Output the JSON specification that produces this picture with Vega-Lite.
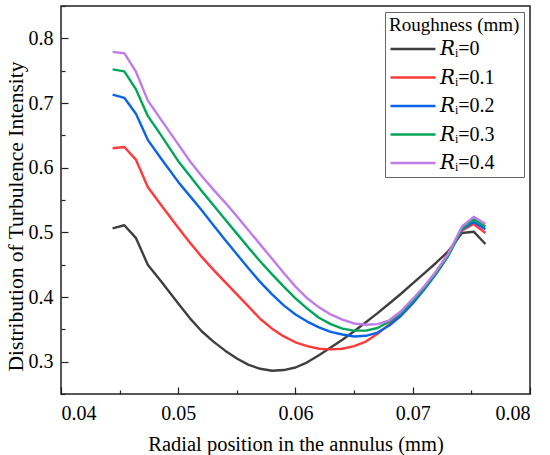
{
  "$schema": "https://vega.github.io/schema/vega-lite/v6.json",
  "width": 469, "height": 388,
  "autosize": {"type": "none"},
  "padding": {"left": 61, "top": 6, "right": 20, "bottom": 61},
  "background": "white",
  "datasets": {
    "curves": [
      {"x": 0.0444, "y": 0.506, "Ri": "0"}, {"x": 0.0454, "y": 0.511, "Ri": "0"}, {"x": 0.0464, "y": 0.491, "Ri": "0"},
      {"x": 0.0474, "y": 0.450, "Ri": "0"}, {"x": 0.0485, "y": 0.425, "Ri": "0"}, {"x": 0.050, "y": 0.390, "Ri": "0"},
      {"x": 0.051, "y": 0.367, "Ri": "0"}, {"x": 0.052, "y": 0.347, "Ri": "0"}, {"x": 0.053, "y": 0.331, "Ri": "0"},
      {"x": 0.054, "y": 0.317, "Ri": "0"}, {"x": 0.055, "y": 0.305, "Ri": "0"}, {"x": 0.056, "y": 0.295, "Ri": "0"},
      {"x": 0.057, "y": 0.289, "Ri": "0"}, {"x": 0.058, "y": 0.286, "Ri": "0"}, {"x": 0.059, "y": 0.287, "Ri": "0"},
      {"x": 0.060, "y": 0.291, "Ri": "0"}, {"x": 0.061, "y": 0.299, "Ri": "0"}, {"x": 0.062, "y": 0.310, "Ri": "0"},
      {"x": 0.063, "y": 0.322, "Ri": "0"}, {"x": 0.064, "y": 0.334, "Ri": "0"}, {"x": 0.065, "y": 0.347, "Ri": "0"},
      {"x": 0.066, "y": 0.361, "Ri": "0"}, {"x": 0.067, "y": 0.375, "Ri": "0"}, {"x": 0.068, "y": 0.390, "Ri": "0"},
      {"x": 0.069, "y": 0.405, "Ri": "0"}, {"x": 0.070, "y": 0.421, "Ri": "0"}, {"x": 0.071, "y": 0.437, "Ri": "0"},
      {"x": 0.072, "y": 0.453, "Ri": "0"}, {"x": 0.073, "y": 0.470, "Ri": "0"}, {"x": 0.0742, "y": 0.499, "Ri": "0"},
      {"x": 0.0752, "y": 0.501, "Ri": "0"}, {"x": 0.0762, "y": 0.482, "Ri": "0"},

      {"x": 0.0444, "y": 0.630, "Ri": "0.1"}, {"x": 0.0454, "y": 0.632, "Ri": "0.1"}, {"x": 0.0464, "y": 0.612, "Ri": "0.1"},
      {"x": 0.0474, "y": 0.570, "Ri": "0.1"}, {"x": 0.0485, "y": 0.543, "Ri": "0.1"}, {"x": 0.050, "y": 0.507, "Ri": "0.1"},
      {"x": 0.051, "y": 0.484, "Ri": "0.1"}, {"x": 0.052, "y": 0.462, "Ri": "0.1"}, {"x": 0.053, "y": 0.442, "Ri": "0.1"},
      {"x": 0.054, "y": 0.423, "Ri": "0.1"}, {"x": 0.055, "y": 0.404, "Ri": "0.1"}, {"x": 0.056, "y": 0.385, "Ri": "0.1"},
      {"x": 0.057, "y": 0.366, "Ri": "0.1"}, {"x": 0.058, "y": 0.351, "Ri": "0.1"}, {"x": 0.059, "y": 0.339, "Ri": "0.1"},
      {"x": 0.060, "y": 0.330, "Ri": "0.1"}, {"x": 0.061, "y": 0.324, "Ri": "0.1"}, {"x": 0.062, "y": 0.320, "Ri": "0.1"},
      {"x": 0.063, "y": 0.319, "Ri": "0.1"}, {"x": 0.064, "y": 0.320, "Ri": "0.1"}, {"x": 0.065, "y": 0.324, "Ri": "0.1"},
      {"x": 0.066, "y": 0.331, "Ri": "0.1"}, {"x": 0.067, "y": 0.343, "Ri": "0.1"}, {"x": 0.068, "y": 0.358, "Ri": "0.1"},
      {"x": 0.069, "y": 0.376, "Ri": "0.1"}, {"x": 0.070, "y": 0.395, "Ri": "0.1"}, {"x": 0.071, "y": 0.415, "Ri": "0.1"},
      {"x": 0.072, "y": 0.439, "Ri": "0.1"}, {"x": 0.073, "y": 0.466, "Ri": "0.1"}, {"x": 0.0742, "y": 0.503, "Ri": "0.1"},
      {"x": 0.0752, "y": 0.513, "Ri": "0.1"}, {"x": 0.0762, "y": 0.499, "Ri": "0.1"},

      {"x": 0.0444, "y": 0.713, "Ri": "0.2"}, {"x": 0.0454, "y": 0.708, "Ri": "0.2"}, {"x": 0.0464, "y": 0.683, "Ri": "0.2"},
      {"x": 0.0474, "y": 0.643, "Ri": "0.2"}, {"x": 0.0485, "y": 0.615, "Ri": "0.2"}, {"x": 0.050, "y": 0.578, "Ri": "0.2"},
      {"x": 0.051, "y": 0.556, "Ri": "0.2"}, {"x": 0.052, "y": 0.534, "Ri": "0.2"}, {"x": 0.053, "y": 0.511, "Ri": "0.2"},
      {"x": 0.054, "y": 0.488, "Ri": "0.2"}, {"x": 0.055, "y": 0.466, "Ri": "0.2"}, {"x": 0.056, "y": 0.444, "Ri": "0.2"},
      {"x": 0.057, "y": 0.423, "Ri": "0.2"}, {"x": 0.058, "y": 0.404, "Ri": "0.2"}, {"x": 0.059, "y": 0.387, "Ri": "0.2"},
      {"x": 0.060, "y": 0.373, "Ri": "0.2"}, {"x": 0.061, "y": 0.362, "Ri": "0.2"}, {"x": 0.062, "y": 0.353, "Ri": "0.2"},
      {"x": 0.063, "y": 0.346, "Ri": "0.2"}, {"x": 0.064, "y": 0.342, "Ri": "0.2"}, {"x": 0.065, "y": 0.339, "Ri": "0.2"},
      {"x": 0.066, "y": 0.340, "Ri": "0.2"}, {"x": 0.067, "y": 0.345, "Ri": "0.2"}, {"x": 0.068, "y": 0.356, "Ri": "0.2"},
      {"x": 0.069, "y": 0.371, "Ri": "0.2"}, {"x": 0.070, "y": 0.390, "Ri": "0.2"}, {"x": 0.071, "y": 0.412, "Ri": "0.2"},
      {"x": 0.072, "y": 0.436, "Ri": "0.2"}, {"x": 0.073, "y": 0.463, "Ri": "0.2"}, {"x": 0.0742, "y": 0.505, "Ri": "0.2"},
      {"x": 0.0752, "y": 0.516, "Ri": "0.2"}, {"x": 0.0762, "y": 0.505, "Ri": "0.2"},

      {"x": 0.0444, "y": 0.752, "Ri": "0.3"}, {"x": 0.0454, "y": 0.749, "Ri": "0.3"}, {"x": 0.0464, "y": 0.721, "Ri": "0.3"},
      {"x": 0.0474, "y": 0.680, "Ri": "0.3"}, {"x": 0.0485, "y": 0.651, "Ri": "0.3"}, {"x": 0.050, "y": 0.610, "Ri": "0.3"},
      {"x": 0.051, "y": 0.587, "Ri": "0.3"}, {"x": 0.052, "y": 0.564, "Ri": "0.3"}, {"x": 0.053, "y": 0.542, "Ri": "0.3"},
      {"x": 0.054, "y": 0.520, "Ri": "0.3"}, {"x": 0.055, "y": 0.498, "Ri": "0.3"}, {"x": 0.056, "y": 0.476, "Ri": "0.3"},
      {"x": 0.057, "y": 0.455, "Ri": "0.3"}, {"x": 0.058, "y": 0.435, "Ri": "0.3"}, {"x": 0.059, "y": 0.416, "Ri": "0.3"},
      {"x": 0.060, "y": 0.398, "Ri": "0.3"}, {"x": 0.061, "y": 0.382, "Ri": "0.3"}, {"x": 0.062, "y": 0.368, "Ri": "0.3"},
      {"x": 0.063, "y": 0.358, "Ri": "0.3"}, {"x": 0.064, "y": 0.351, "Ri": "0.3"}, {"x": 0.065, "y": 0.348, "Ri": "0.3"},
      {"x": 0.066, "y": 0.348, "Ri": "0.3"}, {"x": 0.067, "y": 0.352, "Ri": "0.3"}, {"x": 0.068, "y": 0.362, "Ri": "0.3"},
      {"x": 0.069, "y": 0.376, "Ri": "0.3"}, {"x": 0.070, "y": 0.394, "Ri": "0.3"}, {"x": 0.071, "y": 0.414, "Ri": "0.3"},
      {"x": 0.072, "y": 0.437, "Ri": "0.3"}, {"x": 0.073, "y": 0.463, "Ri": "0.3"}, {"x": 0.0742, "y": 0.506, "Ri": "0.3"},
      {"x": 0.0752, "y": 0.520, "Ri": "0.3"}, {"x": 0.0762, "y": 0.509, "Ri": "0.3"},

      {"x": 0.0444, "y": 0.779, "Ri": "0.4"}, {"x": 0.0454, "y": 0.777, "Ri": "0.4"}, {"x": 0.0464, "y": 0.748, "Ri": "0.4"},
      {"x": 0.0474, "y": 0.704, "Ri": "0.4"}, {"x": 0.0485, "y": 0.675, "Ri": "0.4"}, {"x": 0.050, "y": 0.636, "Ri": "0.4"},
      {"x": 0.051, "y": 0.610, "Ri": "0.4"}, {"x": 0.052, "y": 0.587, "Ri": "0.4"}, {"x": 0.053, "y": 0.566, "Ri": "0.4"},
      {"x": 0.054, "y": 0.546, "Ri": "0.4"}, {"x": 0.055, "y": 0.525, "Ri": "0.4"}, {"x": 0.056, "y": 0.503, "Ri": "0.4"},
      {"x": 0.057, "y": 0.481, "Ri": "0.4"}, {"x": 0.058, "y": 0.459, "Ri": "0.4"}, {"x": 0.059, "y": 0.437, "Ri": "0.4"},
      {"x": 0.060, "y": 0.416, "Ri": "0.4"}, {"x": 0.061, "y": 0.398, "Ri": "0.4"}, {"x": 0.062, "y": 0.384, "Ri": "0.4"},
      {"x": 0.063, "y": 0.373, "Ri": "0.4"}, {"x": 0.064, "y": 0.365, "Ri": "0.4"}, {"x": 0.065, "y": 0.359, "Ri": "0.4"},
      {"x": 0.066, "y": 0.357, "Ri": "0.4"}, {"x": 0.067, "y": 0.358, "Ri": "0.4"}, {"x": 0.068, "y": 0.364, "Ri": "0.4"},
      {"x": 0.069, "y": 0.378, "Ri": "0.4"}, {"x": 0.070, "y": 0.397, "Ri": "0.4"}, {"x": 0.071, "y": 0.417, "Ri": "0.4"},
      {"x": 0.072, "y": 0.440, "Ri": "0.4"}, {"x": 0.073, "y": 0.466, "Ri": "0.4"}, {"x": 0.0742, "y": 0.509, "Ri": "0.4"},
      {"x": 0.0752, "y": 0.524, "Ri": "0.4"}, {"x": 0.0762, "y": 0.513, "Ri": "0.4"}
    ]
  },
  "data": {"name": "curves"},
  "mark": {"type": "line", "strokeWidth": 2.4, "strokeJoin": "round"},
  "encoding": {
    "x": {
      "field": "x", "type": "quantitative",
      "title": "Radial position in the annulus (mm)",
      "scale": {"domain": [0.04, 0.08], "nice": false, "zero": false},
      "axis": {
        "values": [0.04, 0.045, 0.05, 0.055, 0.06, 0.065, 0.07, 0.075, 0.08],
        "labelExpr": "round(datum.value * 1000) % 10 == 0 ? format(datum.value, '.2f') : ''",
        "tickSize": {"condition": {"test": "round(datum.value * 1000) % 10 == 0", "value": -7}, "value": -4},
        "labelPadding": 16,
        "titleFontSize": 20.5,
        "titlePadding": 11
      }
    },
    "y": {
      "field": "y", "type": "quantitative",
      "title": "Distribution of Turbulence Intensity",
      "scale": {"domain": [0.25, 0.85], "nice": false, "zero": false},
      "axis": {
        "values": [0.25, 0.3, 0.35, 0.4, 0.45, 0.5, 0.55, 0.6, 0.65, 0.7, 0.75, 0.8, 0.85],
        "labelExpr": "round(datum.value * 100) % 10 == 0 ? format(datum.value, '.1f') : ''",
        "tickSize": {"condition": {"test": "round(datum.value * 100) % 10 == 0", "value": -7}, "value": -4},
        "labelPadding": 15,
        "titleFontSize": 21.5,
        "titleY": 210,
        "titlePadding": 1
      }
    },
    "color": {
      "field": "Ri", "type": "nominal",
      "scale": {"domain": ["0", "0.1", "0.2", "0.3", "0.4"], "range": ["#3f3f3f", "#ff3a3a", "#0a64e8", "#00a65a", "#c07ce8"]},
      "legend": {
        "title": "Roughness (mm)",
        "labelExpr": "'𝑅ᵢ=' + datum.label",
        "orient": "top-right",
        "offset": 6,
        "symbolType": "stroke",
        "symbolSize": 2025,
        "symbolStrokeWidth": 2.5,
        "clipHeight": 20,
        "rowPadding": 8.5,
        "padding": 4,
        "fillColor": "white",
        "strokeColor": "#666666"
      }
    }
  },
  "config": {
    "font": "Liberation Serif",
    "view": {"stroke": "#222222", "strokeWidth": 1.5},
    "axis": {
      "grid": false, "domain": false,
      "tickColor": "#222222", "tickWidth": 1.2,
      "labelFont": "Liberation Serif, DejaVu Serif", "labelFontSize": 20, "labelColor": "black",
      "titleFont": "Liberation Serif", "titleFontSize": 20, "titleFontWeight": "normal", "titleColor": "black"
    },
    "legend": {
      "labelFont": "Liberation Serif, DejaVu Serif", "labelFontSize": 20, "labelColor": "black", "labelOffset": 3,
      "titleFont": "Liberation Serif", "titleFontSize": 19, "titleFontWeight": "normal", "titleColor": "black",
      "titlePadding": 4, "symbolOffset": 0
    }
  }
}
